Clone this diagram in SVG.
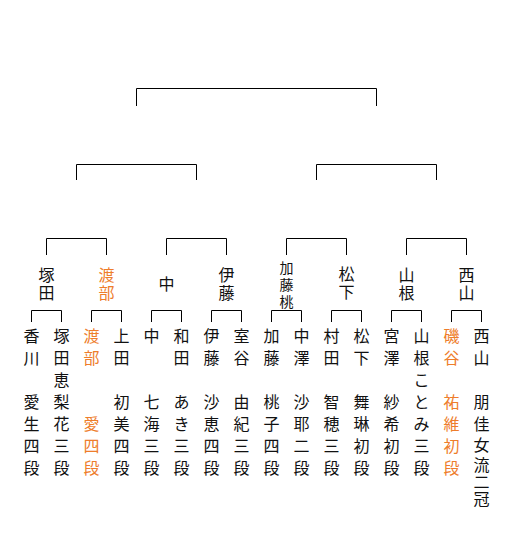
<svg xmlns="http://www.w3.org/2000/svg" width="510" height="536" viewBox="0 0 510 536">
<style>
text{font-family:"Noto Sans CJK JP","Noto Sans CJK SC",sans-serif;font-size:16px;fill:#111;text-anchor:middle;dominant-baseline:central}
.o{fill:#ee7d2b}
.s{font-size:14px}
.c path{fill:none;stroke:#000;stroke-width:1}
</style>
<rect width="510" height="536" fill="#fff"/>
<g class="c" id="connectors">
<path d="M136.5,106V88.5H376.5V106"/>
<path d="M76.5,180V164.5H196.5V180"/>
<path d="M316.5,180V164.5H436.5V180"/>
<path d="M46.5,255V238.5H106.5V255"/>
<path d="M166.5,255V238.5H226.5V255"/>
<path d="M286.5,255V238.5H346.5V255"/>
<path d="M406.5,255V238.5H466.5V255"/>
<path d="M31.5,322V310.5H61.5V322"/>
<path d="M91.5,322V310.5H121.5V322"/>
<path d="M151.5,322V310.5H181.5V322"/>
<path d="M211.5,322V310.5H241.5V322"/>
<path d="M271.5,322V310.5H301.5V322"/>
<path d="M331.5,322V310.5H361.5V322"/>
<path d="M391.5,322V310.5H421.5V322"/>
<path d="M451.5,322V310.5H481.5V322"/>
</g>
<g id="r2-tsukada"><text x="46.5" y="273.5">塚</text><text x="46.5" y="291.5">田</text></g>
<g id="r2-watanabe" class="o"><text class="o" x="106.5" y="273.5">渡</text><text class="o" x="106.5" y="291.5">部</text></g>
<g id="r2-naka"><text x="166.5" y="282.5">中</text></g>
<g id="r2-ito"><text x="226.5" y="273.5">伊</text><text x="226.5" y="291.5">藤</text></g>
<g id="r2-katomomo"><text class="s" x="286.5" y="266.5">加</text><text class="s" x="286.5" y="283.5">藤</text><text class="s" x="286.5" y="300.5">桃</text></g>
<g id="r2-matsushita"><text x="346.5" y="272.5">松</text><text x="346.5" y="290.5">下</text></g>
<g id="r2-yamane"><text x="406.5" y="273.5">山</text><text x="406.5" y="291.5">根</text></g>
<g id="r2-nishiyama"><text x="466.5" y="273.5">西</text><text x="466.5" y="291.5">山</text></g>
<g id="p1"><text x="31.5" y="335">香</text><text x="31.5" y="357">川</text><text x="31.5" y="401">愛</text><text x="31.5" y="423">生</text><text x="31.5" y="445">四</text><text x="31.5" y="467">段</text></g>
<g id="p2"><text x="61.5" y="335">塚</text><text x="61.5" y="357">田</text><text x="61.5" y="379">恵</text><text x="61.5" y="401">梨</text><text x="61.5" y="423">花</text><text x="61.5" y="445">三</text><text x="61.5" y="467">段</text></g>
<g id="p3"><text class="o" x="91.5" y="335">渡</text><text class="o" x="91.5" y="357">部</text><text class="o" x="91.5" y="423">愛</text><text class="o" x="91.5" y="445">四</text><text class="o" x="91.5" y="467">段</text></g>
<g id="p4"><text x="121.5" y="335">上</text><text x="121.5" y="357">田</text><text x="121.5" y="401">初</text><text x="121.5" y="423">美</text><text x="121.5" y="445">四</text><text x="121.5" y="467">段</text></g>
<g id="p5"><text x="151.5" y="335">中</text><text x="151.5" y="401">七</text><text x="151.5" y="423">海</text><text x="151.5" y="445">三</text><text x="151.5" y="467">段</text></g>
<g id="p6"><text x="181.5" y="335">和</text><text x="181.5" y="357">田</text><text x="181.5" y="401">あ</text><text x="181.5" y="423">き</text><text x="181.5" y="445">三</text><text x="181.5" y="467">段</text></g>
<g id="p7"><text x="211.5" y="335">伊</text><text x="211.5" y="357">藤</text><text x="211.5" y="401">沙</text><text x="211.5" y="423">恵</text><text x="211.5" y="445">四</text><text x="211.5" y="467">段</text></g>
<g id="p8"><text x="241.5" y="335">室</text><text x="241.5" y="357">谷</text><text x="241.5" y="401">由</text><text x="241.5" y="423">紀</text><text x="241.5" y="445">三</text><text x="241.5" y="467">段</text></g>
<g id="p9"><text x="271.5" y="335">加</text><text x="271.5" y="357">藤</text><text x="271.5" y="401">桃</text><text x="271.5" y="423">子</text><text x="271.5" y="445">四</text><text x="271.5" y="467">段</text></g>
<g id="p10"><text x="301.5" y="335">中</text><text x="301.5" y="357">澤</text><text x="301.5" y="401">沙</text><text x="301.5" y="423">耶</text><text x="301.5" y="445">二</text><text x="301.5" y="467">段</text></g>
<g id="p11"><text x="331.5" y="335">村</text><text x="331.5" y="357">田</text><text x="331.5" y="401">智</text><text x="331.5" y="423">穂</text><text x="331.5" y="445">三</text><text x="331.5" y="467">段</text></g>
<g id="p12"><text x="361.5" y="335">松</text><text x="361.5" y="357">下</text><text x="361.5" y="401">舞</text><text x="361.5" y="423">琳</text><text x="361.5" y="445">初</text><text x="361.5" y="467">段</text></g>
<g id="p13"><text x="391.5" y="335">宮</text><text x="391.5" y="357">澤</text><text x="391.5" y="401">紗</text><text x="391.5" y="423">希</text><text x="391.5" y="445">初</text><text x="391.5" y="467">段</text></g>
<g id="p14"><text x="421.5" y="335">山</text><text x="421.5" y="357">根</text><text x="421.5" y="379">こ</text><text x="421.5" y="401">と</text><text x="421.5" y="423">み</text><text x="421.5" y="445">三</text><text x="421.5" y="467">段</text></g>
<g id="p15"><text class="o" x="451.5" y="335">磯</text><text class="o" x="451.5" y="357">谷</text><text class="o" x="451.5" y="401">祐</text><text class="o" x="451.5" y="423">維</text><text class="o" x="451.5" y="445">初</text><text class="o" x="451.5" y="467">段</text></g>
<g id="p16"><text x="481.5" y="335">西</text><text x="481.5" y="357">山</text><text x="481.5" y="401">朋</text><text x="481.5" y="423">佳</text><text x="481.5" y="444">女</text><text x="481.5" y="464">流</text><text x="481.5" y="481">二</text><text x="481.5" y="498">冠</text></g>
</svg>
